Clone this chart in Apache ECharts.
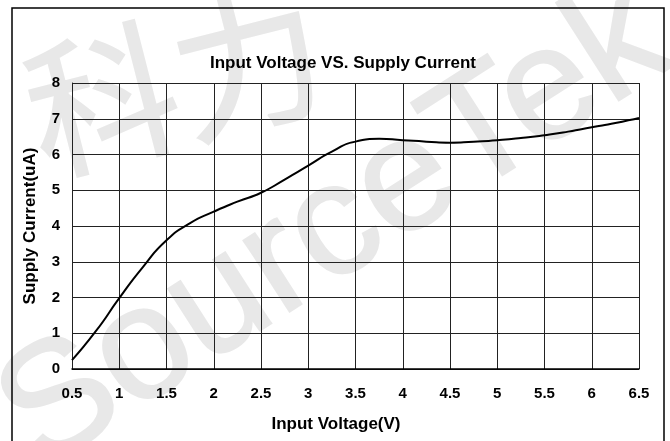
<!DOCTYPE html>
<html>
<head>
<meta charset="utf-8">
<script src="https://cdn.jsdelivr.net/npm/echarts@6/dist/echarts.min.js"></script>
<style>
  html, body { margin: 0; padding: 0; background: #fff; }
  #main { width: 670px; height: 441px; }
</style>
</head>
<body>
<div id="main"></div>
<script>
var 电压 = [0.5, 0.75, 1, 1.25, 1.5, 1.75, 2, 2.25, 2.5, 2.75, 3, 3.25, 3.5,
           3.75, 4, 4.25, 4.5, 4.75, 5, 5.25, 5.5, 5.75, 6, 6.25, 6.5];
var 电流 = [0.25, 1.05, 1.98, 2.85, 3.60, 4.08, 4.40, 4.68, 4.93, 5.30, 5.69, 6.08, 6.36,
           6.44, 6.40, 6.36, 6.33, 6.36, 6.40, 6.46, 6.54, 6.64, 6.76, 6.88, 7.02];

var myChart = echarts.init(document.getElementById('main'));

var 曲线 = 电压.map(function (v, i) { return [v, 电流[i]]; });

var 字体 = 'Arial, "Liberation Sans", sans-serif';

option = {
    animation: false,
    title: {
        text: 'Input Voltage VS. Supply Current',
        left: 338,
        top: 50,
        textAlign: 'center',
        textStyle: { fontFamily: 字体, fontSize: 17, fontWeight: 'bold', color: '#000' }
    },
    // 水印和外框
    graphic: [
        {
            type: 'text', z: -10, left: 10, top: -30, rotation: 0.25,
            style: { text: '科力', font: '150px "Noto Sans CJK SC"', fill: '#e8e8e8',
                     stroke: '#e8e8e8', lineWidth: 2 }
        },
        {
            type: 'text', z: -10, x: 335, y: 230, rotation: 0.57,
            style: { text: 'SourceTek', font: '160px Arial, "Liberation Sans"', fill: '#e8e8e8',
                     stroke: '#e8e8e8', lineWidth: 2,
                     textAlign: 'center', textVerticalAlign: 'middle' }
        },
        {
            type: 'rect', z: 100, silent: true,
            shape: { x: 12, y: 8, width: 652, height: 460 },
            style: { fill: 'none', stroke: '#000', lineWidth: 1.5 }
        }
    ],
    grid: { left: 72, right: 31, top: 83, bottom: 72 },
    xAxis: {
        type: 'value',
        min: 0.5,
        max: 6.5,
        interval: 0.5,
        name: 'Input Voltage(V)',
        nameLocation: 'middle',
        nameGap: 47,
        nameTextStyle: { fontFamily: 字体, fontSize: 17, fontWeight: 'bold', color: '#000', padding: [0, 39, 0, 0] },
        axisLine: { lineStyle: { color: '#000', width: 1.5 } },
        axisTick: { show: false },
        axisLabel: { margin: 17, fontFamily: 字体, fontSize: 15, fontWeight: 'bold', color: '#000' },
        splitLine: { show: true, lineStyle: { color: '#222', width: 1 } }
    },
    yAxis: {
        type: 'value',
        min: 0,
        max: 8,
        interval: 1,
        name: 'Supply Current(uA)',
        nameLocation: 'middle',
        nameGap: 33,
        nameTextStyle: { fontFamily: 字体, fontSize: 17, fontWeight: 'bold', color: '#000' },
        axisLine: { show: true, lineStyle: { color: '#222', width: 1 } },
        axisTick: { show: false },
        axisLabel: { margin: 12, fontFamily: 字体, fontSize: 15, fontWeight: 'bold', color: '#000' },
        splitLine: { show: true, lineStyle: { color: '#222', width: 1 } }
    },
    series: [
        {
            name: 'Supply Current',
            type: 'line',
            data: 曲线,
            smooth: 0.6,
            showSymbol: false,
            lineStyle: { color: '#000', width: 2 }
        }
    ]
};

myChart.setOption(option);
</script>
</body>
</html>
